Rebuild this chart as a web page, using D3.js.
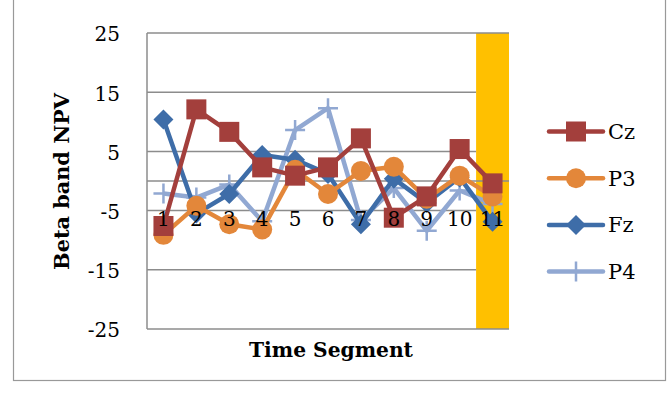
<!DOCTYPE html>
<html><head><meta charset="utf-8">
<script src="https://cdn.jsdelivr.net/npm/d3@7"></script>
<style>body{margin:0;background:#fff}svg{display:block}</style>
</head><body>
<script>
const categories = ["1","2","3","4","5","6","7","8","9","10","11"];
const cz = [-7.6, 12.1, 8.3, 2.3, 0.9, 2.3, 7.2, -6.2, -2.6, 5.4, -0.4];
const p3 = [-9.1, -4.2, -7.3, -8.2, 1.9, -2.2, 1.7, 2.4, -3.0, 0.9, -2.6];
const fz = [10.4, -5.5, -2.2, 4.4, 3.6, 1.2, -7.3, 0.4, -3.7, 0.6, -6.9];
const p4 = [-2.1, -2.8, -0.6, -6.8, 8.6, 12.3, -6.6, -1.2, -8.4, -1.6, -3.9];
const highlight = ["11"];
const yTicks = [25, 15, 5, -5, -15, -25];
const seriesNames = ["Cz", "P3", "Fz", "P4"];

const W = 670, H = 399;
const font = "'DejaVu Serif', serif";
const svg = d3.select("body").append("svg").attr("width", W).attr("height", H);

// outer chart border
svg.append("rect").attr("x", 13.5).attr("y", -5).attr("width", 652).attr("height", 385.5)
  .attr("fill", "#fff").attr("stroke", "#999").attr("stroke-width", 1.2);

const L = 147, R = 509, T = 33, B = 329;
const x = d3.scaleBand().domain(categories).range([L, R]).padding(0);
const y = d3.scaleLinear().domain([-25, 25]).range([B, T]);

// highlighted column
svg.selectAll("rect.hl").data(highlight).join("rect")
  .attr("x", d => x(d)).attr("width", x.bandwidth())
  .attr("y", y(25)).attr("height", y(-25) - y(25)).attr("fill", "#FFC000");

// gridlines
const grid = svg.append("g");
grid.selectAll("line").data(yTicks).join("line")
  .attr("x1", L).attr("x2", d => (d === 25 || d === -25) ? R : x(highlight[0]))
  .attr("y1", d => y(d)).attr("y2", d => y(d))
  .attr("stroke", "#8c8c8c").attr("stroke-width", 1.5);
// axis line at zero
svg.append("line").attr("x1", L).attr("x2", R).attr("y1", y(0)).attr("y2", y(0))
  .attr("stroke", "#8c8c8c").attr("stroke-width", 1.5);
// left axis line
svg.append("line").attr("x1", L).attr("x2", L).attr("y1", T).attr("y2", B)
  .attr("stroke", "#8c8c8c").attr("stroke-width", 1.5);

// y axis labels
const yAxis = d3.axisLeft(y).tickValues(yTicks).tickFormat(d => String(d)).tickSize(0).tickPadding(0);
const gy = svg.append("g").attr("transform", `translate(120,1.5)`).call(yAxis);
gy.select(".domain").remove();
gy.selectAll("text").attr("font-family", font).attr("font-size", 20).attr("fill", "#000");

const colors = {Cz: "#A33F3C", P3: "#E3873A", Fz: "#3E6DA8", P4: "#91A8D2"};
const data = {Cz: cz, P3: p3, Fz: fz, P4: p4};
const cx = c => x(c) + x.bandwidth() / 2;

function marker(g, name, px, py) {
  const c = colors[name];
  if (name === "Cz") g.append("rect").attr("x", px - 10).attr("y", py - 10).attr("width", 20).attr("height", 20).attr("fill", c);
  else if (name === "P3") g.append("circle").attr("cx", px).attr("cy", py).attr("r", 10).attr("fill", c);
  else if (name === "Fz") g.append("path").attr("d", `M${px},${py-10}L${px+10},${py}L${px},${py+10}L${px-10},${py}Z`).attr("fill", c);
  else g.append("path").attr("d", `M${px-10},${py}H${px+10}M${px},${py-10}V${py+10}`).attr("stroke", c).attr("stroke-width", 2.5);
}

const line = d3.line().x((d, i) => cx(categories[i])).y(d => y(d));
["P4", "Fz", "P3", "Cz"].forEach(name => {
  const g = svg.append("g");
  g.append("path").attr("d", line(data[name])).attr("fill", "none")
    .attr("stroke", colors[name]).attr("stroke-width", 4.5).attr("stroke-linejoin", "round");
  data[name].forEach((v, i) => marker(g, name, cx(categories[i]), y(v)));
});

// category labels
const xAxis = d3.axisBottom(x).tickSize(0).tickPadding(0);
const gx = svg.append("g").attr("transform", `translate(0,${y(0) + 45})`).call(xAxis);
gx.select(".domain").remove();
gx.selectAll("text").attr("font-family", font).attr("font-size", 20).attr("fill", "#000").attr("dy", 0);

function fit(sel, target) {
  const w = sel.node().getComputedTextLength();
  const fs = parseFloat(sel.attr("font-size"));
  sel.attr("font-size", fs * target / w);
}
// axis titles
const xt = svg.append("text").attr("x", 331).attr("y", 357).attr("text-anchor", "middle")
  .attr("font-family", font).attr("font-weight", "bold").attr("font-size", 18).text("Time Segment");
fit(xt, 164);
const yt = svg.append("text").attr("transform", "translate(69,181.5) rotate(-90)").attr("text-anchor", "middle")
  .attr("font-family", font).attr("font-weight", "bold").attr("font-size", 18).text("Beta band NPV");
fit(yt, 177);

// legend
const leg = svg.append("g");
seriesNames.forEach((name, i) => {
  const ly = 131.5 + i * 46.7;
  const g = leg.append("g");
  g.append("line").attr("x1", 549).attr("x2", 603).attr("y1", ly).attr("y2", ly)
    .attr("stroke", colors[name]).attr("stroke-width", 4.5).attr("stroke-linecap", "round");
  marker(g, name, 576, ly);
  g.append("text").attr("x", 608).attr("y", ly + 7.5).attr("font-family", font).attr("font-size", 21).text(name);
});
</script>
</body></html>
